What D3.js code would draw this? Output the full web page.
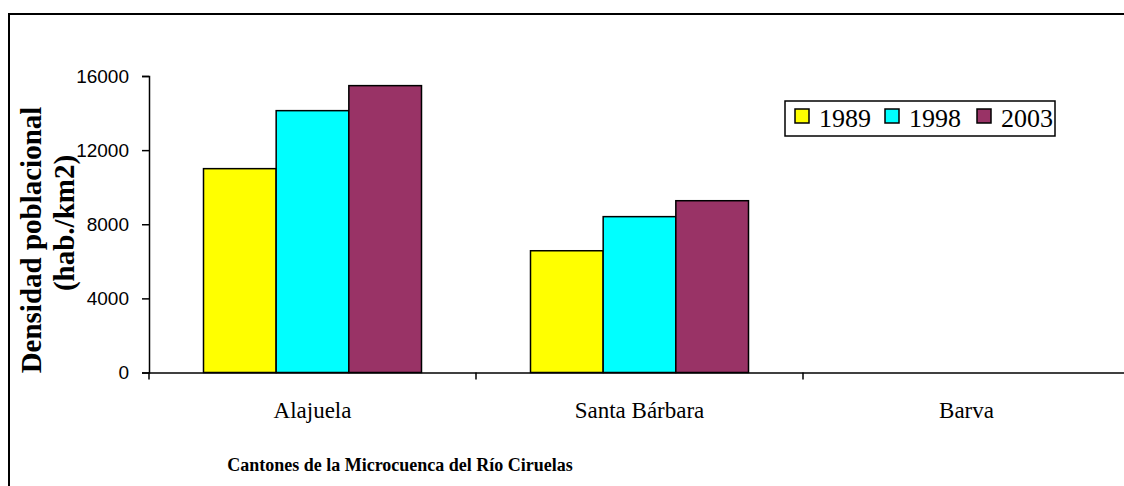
<!DOCTYPE html>
<html><head><meta charset="utf-8">
<script src="https://cdn.jsdelivr.net/npm/d3@7"></script>
<style>body{margin:0;background:#fff}svg{display:block}</style>
</head><body>
<svg id="c" width="1124" height="486"></svg>
<script>
const categories = ["Alajuela", "Santa Bárbara", "Barva"];
const seriesNames = ["1989", "1998", "2003"];
const values1989 = [11000, 6570, null];
const values1998 = [14130, 8410, null];
const values2003 = [15480, 9270, null];
const yTicks = [0, 4000, 8000, 12000, 16000];
const colors = ["#ffff00", "#00ffff", "#993366"];

const seriesValues = [values1989, values1998, values2003];
const svg = d3.select("#c");

// outer frame
svg.append("rect").attr("x", 9).attr("y", 14).attr("width", 1130).attr("height", 490)
  .attr("fill", "#fff").attr("stroke", "#000").attr("stroke-width", 2);

const left = 149, zeroY = 372.5, topY = 76;
const x = d3.scaleBand().domain(categories).range([left, left + 327 * 3]);
const y = d3.scaleLinear().domain([0, 16000]).range([zeroY, topY]);
const inner = d3.scaleBand().domain(seriesNames).range([0, x.bandwidth()]).paddingOuter(0.75).paddingInner(0);

// bars
seriesNames.forEach((s, si) => {
  svg.append("g").selectAll("rect")
    .data(categories.map((c, ci) => ({c, v: seriesValues[si][ci]})).filter(d => d.v != null))
    .join("rect")
    .attr("x", d => x(d.c) + inner(s))
    .attr("y", d => y(d.v))
    .attr("width", inner.bandwidth())
    .attr("height", d => zeroY - y(d.v))
    .attr("fill", colors[si])
    .attr("stroke", "#000").attr("stroke-width", 1.5);
});

// y axis
const yAxis = svg.append("g").attr("transform", `translate(${left},0)`)
  .call(d3.axisLeft(y).tickValues(yTicks).tickSize(7).tickPadding(13).tickFormat(d3.format("d")));
yAxis.select(".domain").attr("stroke", "#000").attr("stroke-width", 1.5);
yAxis.selectAll(".tick line").attr("stroke", "#000").attr("stroke-width", 1.5);
yAxis.selectAll("text").attr("font-family", "Liberation Sans, Arial, sans-serif").attr("font-size", 19).attr("fill", "#000");

// x axis
const xAxis = svg.append("g").attr("transform", `translate(0,${zeroY})`)
  .call(d3.axisBottom(x).tickSize(0).tickPadding(29));
xAxis.select(".domain").attr("stroke", "#000").attr("stroke-width", 1.5);
xAxis.selectAll("text").attr("font-family", "Liberation Serif, Times New Roman, serif").attr("font-size", 23).attr("fill", "#000");
// category separators ticks
svg.append("g").selectAll("line").data(categories.slice(1)).join("line")
  .attr("x1", d => x(d)).attr("x2", d => x(d))
  .attr("y1", zeroY).attr("y2", zeroY + 7).attr("stroke", "#000").attr("stroke-width", 1.5);
svg.append("line").attr("x1", left).attr("x2", left).attr("y1", zeroY).attr("y2", zeroY + 7)
  .attr("stroke", "#000").attr("stroke-width", 1.5);

// y title
const yt = svg.append("text").attr("transform", "translate(50,240) rotate(-90)")
  .attr("text-anchor", "middle").attr("font-family", "Liberation Serif, Times New Roman, serif")
  .attr("font-weight", "bold").attr("font-size", 29).attr("fill", "#000");
yt.append("tspan").attr("x", 0).attr("dy", "-0.3em").text("Densidad poblacional");
yt.append("tspan").attr("x", 17).attr("dy", "1.12em").text("(hab./km2)");

// x title
svg.append("text").attr("x", 400).attr("y", 471).attr("text-anchor", "middle")
  .attr("font-family", "Liberation Serif, Times New Roman, serif").attr("font-weight", "bold")
  .attr("font-size", 18).attr("fill", "#000").text("Cantones de la Microcuenca del Río Ciruelas");

// legend
const lg = svg.append("g");
lg.append("rect").attr("x", 785).attr("y", 101).attr("width", 270).attr("height", 35)
  .attr("fill", "#fff").attr("stroke", "#000").attr("stroke-width", 1.5);
const offs = [795, 885, 977];
seriesNames.forEach((s, i) => {
  lg.append("rect").attr("x", offs[i]).attr("y", 109).attr("width", 14).attr("height", 14)
    .attr("fill", colors[i]).attr("stroke", "#000").attr("stroke-width", 1.5);
  lg.append("text").attr("x", offs[i] + 24).attr("y", 127)
    .attr("font-family", "Liberation Serif, Times New Roman, serif").attr("font-size", 26)
    .attr("fill", "#000").text(s);
});
</script>
</body></html>
